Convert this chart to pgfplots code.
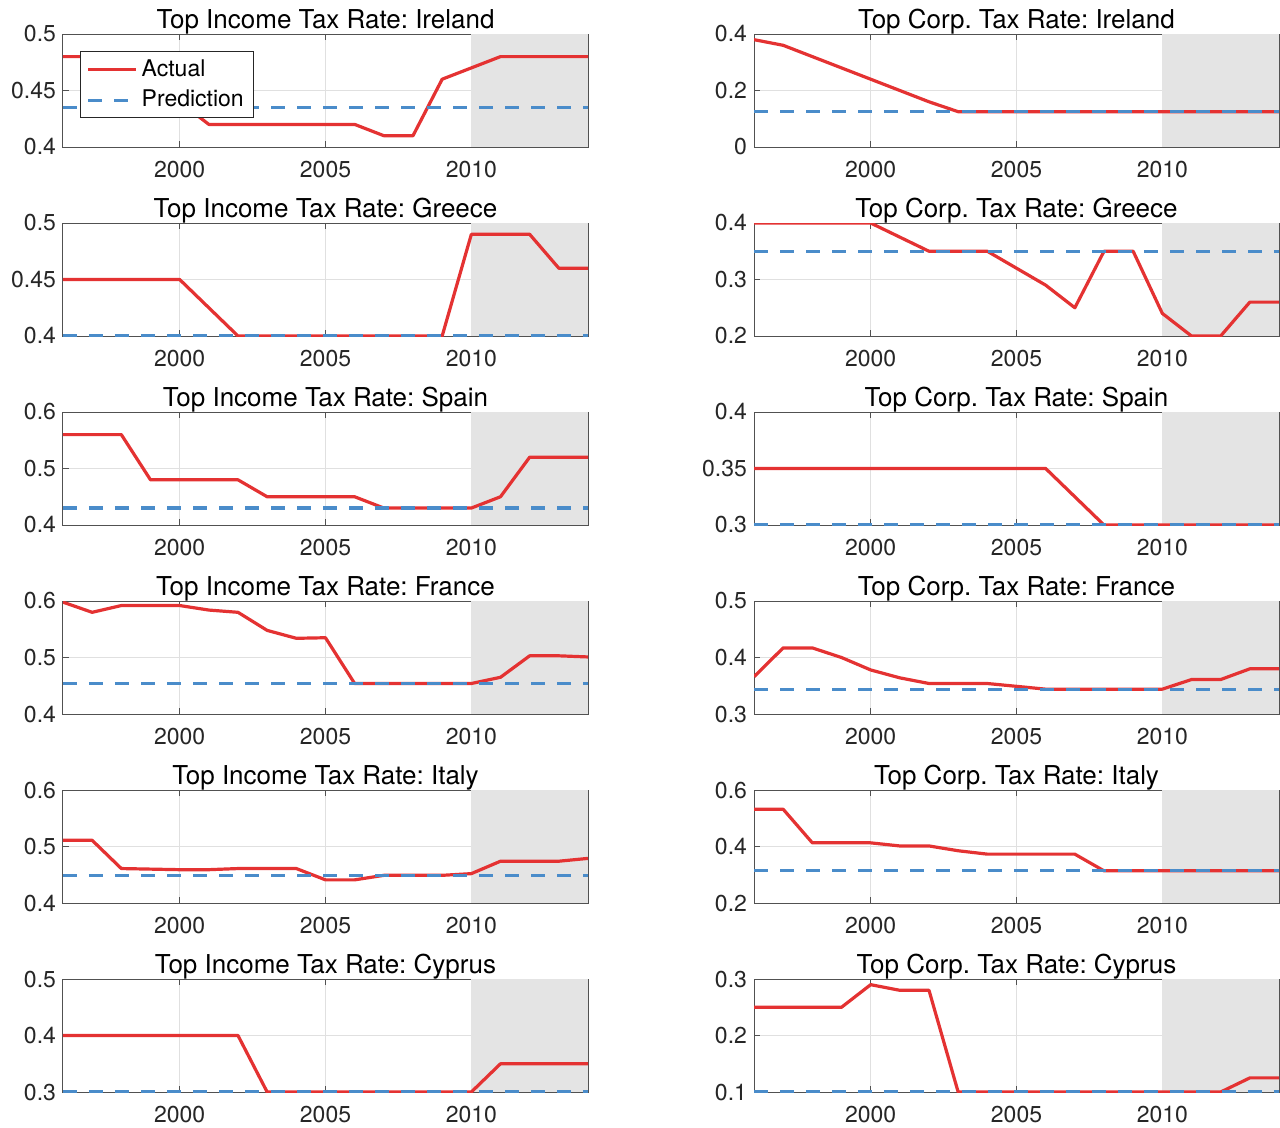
\documentclass[border=0pt]{standalone}
\usepackage{fontspec}
\setmainfont{TeX Gyre Heros}
\frenchspacing
\usepackage{pgfplots}
\pgfplotsset{compat=1.18}
\usepgfplotslibrary{groupplots}
\usetikzlibrary{calc}
\definecolor{actred}{RGB}{228,50,50}
\definecolor{predblue}{RGB}{74,140,202}
\definecolor{shade}{RGB}{228,228,228}
\definecolor{axgray}{RGB}{38,38,38}
\pgfplotsset{
  actual/.style={actred, line width=1.6pt, line join=round},
  pred/.style={predblue, line width=1.6pt, dash pattern=on 7pt off 6pt},
  shadeplot/.style={fill=shade, draw=none, forget plot},
}
\begin{document}
\begin{tikzpicture}
\begin{groupplot}[
  group style={group size=2 by 6, horizontal sep=83pt, vertical sep=38pt},
  width=262.5pt, height=56.5pt, scale only axis,
  xmin=1996, xmax=2014, xtick={2000,2005,2010},
  grid=major, major grid style={black!12, line width=0.5pt},
  axis line style={axgray!80, line width=0.5pt},
  tick align=inside, major tick length=3pt,
  tick style={axgray!80, line width=0.5pt},
  /pgf/number format/assume math mode=true,
  tick label style={font=\fontsize{11.5}{13}\selectfont, text=axgray},
  x tick label style={/pgf/number format/1000 sep={}, yshift=-3.5pt},
  y tick label style={/pgf/number format/fixed, /pgf/number format/precision=3},
  title style={font=\fontsize{13}{15}\selectfont, inner sep=1pt, yshift=-7.5pt},
  legend cell align=left,
  legend image code/.code={\draw[#1] (0pt,0pt) -- (24pt,0pt);},
]
% ---- Row 1
\nextgroupplot[title={Top Income Tax Rate: Ireland}, ymin=0.4, ymax=0.5, ytick={0.4,0.45,0.5},
  legend style={at={(0.0324,0.85)}, anchor=north west, font=\fontsize{11.5}{13}\selectfont, draw=axgray, line width=0.5pt, inner xsep=3pt, inner ysep=2pt, row sep=1.5pt}]
\addplot[shadeplot] coordinates {(2010,0.4) (2014,0.4) (2014,0.5) (2010,0.5)};
\addplot[actual] coordinates {(1996,0.48)(1997,0.48)(1998,0.46)(1999,0.46)(2000,0.44)(2001,0.42)(2002,0.42)(2003,0.42)(2004,0.42)(2005,0.42)(2006,0.42)(2007,0.41)(2008,0.41)(2009,0.46)(2010,0.47)(2011,0.48)(2012,0.48)(2013,0.48)(2014,0.48)};
\addplot[pred] coordinates {(1996,0.435)(2014,0.435)};
\legend{Actual, Prediction}
\nextgroupplot[title={Top Corp. Tax Rate: Ireland}, ymin=0, ymax=0.4, ytick={0,0.2,0.4}]
\addplot[shadeplot] coordinates {(2010,0) (2014,0) (2014,0.4) (2010,0.4)};
\addplot[actual] coordinates {(1996,0.38)(1997,0.36)(1998,0.32)(1999,0.28)(2000,0.24)(2001,0.20)(2002,0.16)(2003,0.125)(2004,0.125)(2005,0.125)(2006,0.125)(2007,0.125)(2008,0.125)(2009,0.125)(2010,0.125)(2011,0.125)(2012,0.125)(2013,0.125)(2014,0.125)};
\addplot[pred] coordinates {(1996,0.125)(2014,0.125)};
% ---- Row 2
\nextgroupplot[title={Top Income Tax Rate: Greece}, ymin=0.4, ymax=0.5, ytick={0.4,0.45,0.5}]
\addplot[shadeplot] coordinates {(2010,0.4) (2014,0.4) (2014,0.5) (2010,0.5)};
\addplot[actual] coordinates {(1996,0.45)(1997,0.45)(1998,0.45)(1999,0.45)(2000,0.45)(2001,0.425)(2002,0.40)(2003,0.40)(2004,0.40)(2005,0.40)(2006,0.40)(2007,0.40)(2008,0.40)(2009,0.40)(2010,0.49)(2011,0.49)(2012,0.49)(2013,0.46)(2014,0.46)};
\addplot[pred] coordinates {(1996,0.40)(2014,0.40)};
\nextgroupplot[title={Top Corp. Tax Rate: Greece}, ymin=0.2, ymax=0.4, ytick={0.2,0.3,0.4}]
\addplot[shadeplot] coordinates {(2010,0.2) (2014,0.2) (2014,0.4) (2010,0.4)};
\addplot[actual] coordinates {(1996,0.40)(1997,0.40)(1998,0.40)(1999,0.40)(2000,0.40)(2001,0.375)(2002,0.35)(2003,0.35)(2004,0.35)(2005,0.32)(2006,0.29)(2007,0.25)(2008,0.35)(2009,0.35)(2010,0.24)(2011,0.20)(2012,0.20)(2013,0.26)(2014,0.26)};
\addplot[pred] coordinates {(1996,0.35)(2014,0.35)};
% ---- Row 3
\nextgroupplot[title={Top Income Tax Rate: Spain}, ymin=0.4, ymax=0.6, ytick={0.4,0.5,0.6}]
\addplot[shadeplot] coordinates {(2010,0.4) (2014,0.4) (2014,0.6) (2010,0.6)};
\addplot[actual] coordinates {(1996,0.56)(1997,0.56)(1998,0.56)(1999,0.48)(2000,0.48)(2001,0.48)(2002,0.48)(2003,0.45)(2004,0.45)(2005,0.45)(2006,0.45)(2007,0.43)(2008,0.43)(2009,0.43)(2010,0.43)(2011,0.45)(2012,0.52)(2013,0.52)(2014,0.52)};
\addplot[pred] coordinates {(1996,0.43)(2014,0.43)};
\nextgroupplot[title={Top Corp. Tax Rate: Spain}, ymin=0.3, ymax=0.4, ytick={0.3,0.35,0.4}]
\addplot[shadeplot] coordinates {(2010,0.3) (2014,0.3) (2014,0.4) (2010,0.4)};
\addplot[actual] coordinates {(1996,0.35)(1997,0.35)(1998,0.35)(1999,0.35)(2000,0.35)(2001,0.35)(2002,0.35)(2003,0.35)(2004,0.35)(2005,0.35)(2006,0.35)(2007,0.325)(2008,0.30)(2009,0.30)(2010,0.30)(2011,0.30)(2012,0.30)(2013,0.30)(2014,0.30)};
\addplot[pred] coordinates {(1996,0.30)(2014,0.30)};
% ---- Row 4
\nextgroupplot[title={Top Income Tax Rate: France}, ymin=0.4, ymax=0.6, ytick={0.4,0.5,0.6}]
\addplot[shadeplot] coordinates {(2010,0.4) (2014,0.4) (2014,0.6) (2010,0.6)};
\addplot[actual] coordinates {(1996,0.598)(1997,0.580)(1998,0.592)(1999,0.592)(2000,0.592)(2001,0.584)(2002,0.580)(2003,0.548)(2004,0.534)(2005,0.535)(2006,0.454)(2007,0.454)(2008,0.454)(2009,0.454)(2010,0.454)(2011,0.465)(2012,0.503)(2013,0.503)(2014,0.501)};
\addplot[pred] coordinates {(1996,0.454)(2014,0.454)};
\nextgroupplot[title={Top Corp. Tax Rate: France}, ymin=0.3, ymax=0.5, ytick={0.3,0.4,0.5}]
\addplot[shadeplot] coordinates {(2010,0.3) (2014,0.3) (2014,0.5) (2010,0.5)};
\addplot[actual] coordinates {(1996,0.366)(1997,0.417)(1998,0.417)(1999,0.400)(2000,0.378)(2001,0.364)(2002,0.354)(2003,0.354)(2004,0.354)(2005,0.349)(2006,0.344)(2007,0.344)(2008,0.344)(2009,0.344)(2010,0.344)(2011,0.361)(2012,0.361)(2013,0.380)(2014,0.380)};
\addplot[pred] coordinates {(1996,0.344)(2014,0.344)};
% ---- Row 5
\nextgroupplot[title={Top Income Tax Rate: Italy}, ymin=0.4, ymax=0.6, ytick={0.4,0.5,0.6}]
\addplot[shadeplot] coordinates {(2010,0.4) (2014,0.4) (2014,0.6) (2010,0.6)};
\addplot[actual] coordinates {(1996,0.511)(1997,0.511)(1998,0.461)(1999,0.460)(2000,0.459)(2001,0.459)(2002,0.461)(2003,0.461)(2004,0.461)(2005,0.441)(2006,0.441)(2007,0.449)(2008,0.449)(2009,0.449)(2010,0.452)(2011,0.474)(2012,0.474)(2013,0.474)(2014,0.479)};
\addplot[pred] coordinates {(1996,0.449)(2014,0.449)};
\nextgroupplot[title={Top Corp. Tax Rate: Italy}, ymin=0.2, ymax=0.6, ytick={0.2,0.4,0.6}]
\addplot[shadeplot] coordinates {(2010,0.2) (2014,0.2) (2014,0.6) (2010,0.6)};
\addplot[actual] coordinates {(1996,0.532)(1997,0.532)(1998,0.413)(1999,0.413)(2000,0.413)(2001,0.402)(2002,0.402)(2003,0.385)(2004,0.373)(2005,0.373)(2006,0.373)(2007,0.373)(2008,0.314)(2009,0.314)(2010,0.314)(2011,0.314)(2012,0.314)(2013,0.314)(2014,0.314)};
\addplot[pred] coordinates {(1996,0.314)(2014,0.314)};
% ---- Row 6
\nextgroupplot[title={Top Income Tax Rate: Cyprus}, ymin=0.3, ymax=0.5, ytick={0.3,0.4,0.5}]
\addplot[shadeplot] coordinates {(2010,0.3) (2014,0.3) (2014,0.5) (2010,0.5)};
\addplot[actual] coordinates {(1996,0.40)(1997,0.40)(1998,0.40)(1999,0.40)(2000,0.40)(2001,0.40)(2002,0.40)(2003,0.30)(2004,0.30)(2005,0.30)(2006,0.30)(2007,0.30)(2008,0.30)(2009,0.30)(2010,0.30)(2011,0.35)(2012,0.35)(2013,0.35)(2014,0.35)};
\addplot[pred] coordinates {(1996,0.30)(2014,0.30)};
\nextgroupplot[title={Top Corp. Tax Rate: Cyprus}, ymin=0.1, ymax=0.3, ytick={0.1,0.2,0.3}]
\addplot[shadeplot] coordinates {(2010,0.1) (2014,0.1) (2014,0.3) (2010,0.3)};
\addplot[actual] coordinates {(1996,0.25)(1997,0.25)(1998,0.25)(1999,0.25)(2000,0.29)(2001,0.28)(2002,0.28)(2003,0.10)(2004,0.10)(2005,0.10)(2006,0.10)(2007,0.10)(2008,0.10)(2009,0.10)(2010,0.10)(2011,0.10)(2012,0.10)(2013,0.125)(2014,0.125)};
\addplot[pred] coordinates {(1996,0.10)(2014,0.10)};
\end{groupplot}
\pgfresetboundingbox
\path ($(group c1r1.north west)+(-31.5pt,17pt)$) rectangle ($(group c2r6.south east)+(0.5pt,-17.5pt)$);
\end{tikzpicture}
\end{document}
